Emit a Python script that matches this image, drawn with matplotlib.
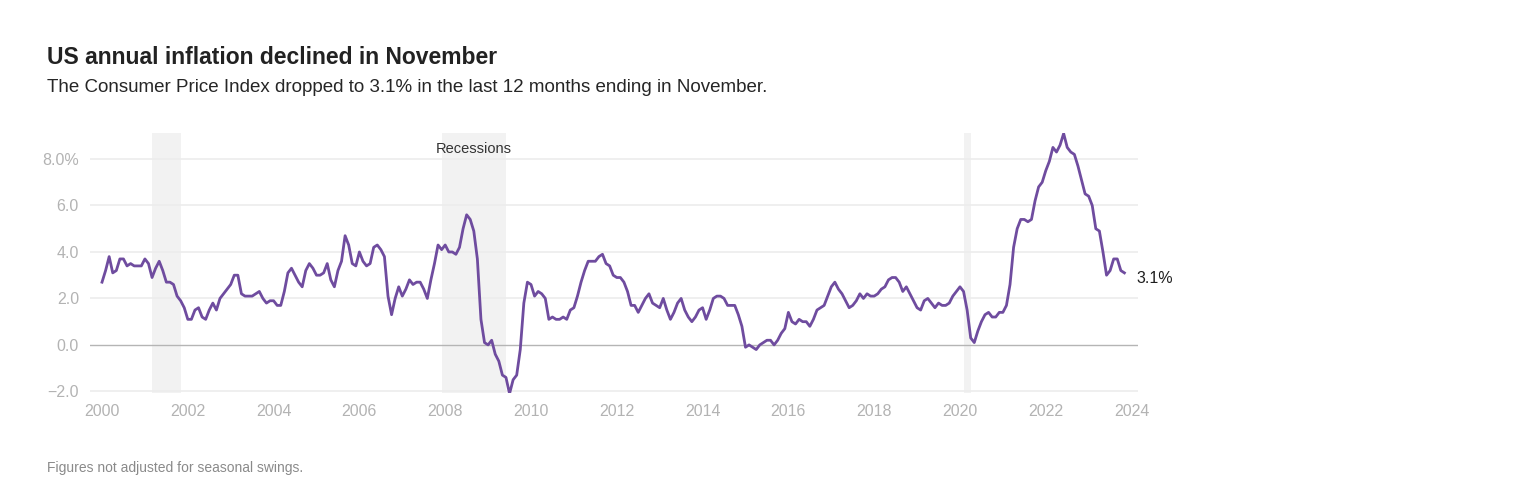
import numpy as np
import matplotlib
matplotlib.use("Agg")
import matplotlib.pyplot as plt

# monthly CPI, % change from a year earlier, Jan 2000 - Nov 2023
cpi_yoy = [
    2.7, 3.2, 3.8, 3.1, 3.2, 3.7, 3.7, 3.4, 3.5, 3.4, 3.4, 3.4,  # 2000
    3.7, 3.5, 2.9, 3.3, 3.6, 3.2, 2.7, 2.7, 2.6, 2.1, 1.9, 1.6,  # 2001
    1.1, 1.1, 1.5, 1.6, 1.2, 1.1, 1.5, 1.8, 1.5, 2.0, 2.2, 2.4,  # 2002
    2.6, 3.0, 3.0, 2.2, 2.1, 2.1, 2.1, 2.2, 2.3, 2.0, 1.8, 1.9,  # 2003
    1.9, 1.7, 1.7, 2.3, 3.1, 3.3, 3.0, 2.7, 2.5, 3.2, 3.5, 3.3,  # 2004
    3.0, 3.0, 3.1, 3.5, 2.8, 2.5, 3.2, 3.6, 4.7, 4.3, 3.5, 3.4,  # 2005
    4.0, 3.6, 3.4, 3.5, 4.2, 4.3, 4.1, 3.8, 2.1, 1.3, 2.0, 2.5,  # 2006
    2.1, 2.4, 2.8, 2.6, 2.7, 2.7, 2.4, 2.0, 2.8, 3.5, 4.3, 4.1,  # 2007
    4.3, 4.0, 4.0, 3.9, 4.2, 5.0, 5.6, 5.4, 4.9, 3.7, 1.1, 0.1,  # 2008
    0.0, 0.2, -0.4, -0.7, -1.3, -1.4, -2.1, -1.5, -1.3, -0.2, 1.8, 2.7,  # 2009
    2.6, 2.1, 2.3, 2.2, 2.0, 1.1, 1.2, 1.1, 1.1, 1.2, 1.1, 1.5,  # 2010
    1.6, 2.1, 2.7, 3.2, 3.6, 3.6, 3.6, 3.8, 3.9, 3.5, 3.4, 3.0,  # 2011
    2.9, 2.9, 2.7, 2.3, 1.7, 1.7, 1.4, 1.7, 2.0, 2.2, 1.8, 1.7,  # 2012
    1.6, 2.0, 1.5, 1.1, 1.4, 1.8, 2.0, 1.5, 1.2, 1.0, 1.2, 1.5,  # 2013
    1.6, 1.1, 1.5, 2.0, 2.1, 2.1, 2.0, 1.7, 1.7, 1.7, 1.3, 0.8,  # 2014
    -0.1, 0.0, -0.1, -0.2, 0.0, 0.1, 0.2, 0.2, 0.0, 0.2, 0.5, 0.7,  # 2015
    1.4, 1.0, 0.9, 1.1, 1.0, 1.0, 0.8, 1.1, 1.5, 1.6, 1.7, 2.1,  # 2016
    2.5, 2.7, 2.4, 2.2, 1.9, 1.6, 1.7, 1.9, 2.2, 2.0, 2.2, 2.1,  # 2017
    2.1, 2.2, 2.4, 2.5, 2.8, 2.9, 2.9, 2.7, 2.3, 2.5, 2.2, 1.9,  # 2018
    1.6, 1.5, 1.9, 2.0, 1.8, 1.6, 1.8, 1.7, 1.7, 1.8, 2.1, 2.3,  # 2019
    2.5, 2.3, 1.5, 0.3, 0.1, 0.6, 1.0, 1.3, 1.4, 1.2, 1.2, 1.4,  # 2020
    1.4, 1.7, 2.6, 4.2, 5.0, 5.4, 5.4, 5.3, 5.4, 6.2, 6.8, 7.0,  # 2021
    7.5, 7.9, 8.5, 8.3, 8.6, 9.1, 8.5, 8.3, 8.2, 7.7, 7.1, 6.5,  # 2022
    6.4, 6.0, 5.0, 4.9, 4.0, 3.0, 3.2, 3.7, 3.7, 3.2, 3.1,       # 2023
]
start_year = 2000

# NBER recessions (start, end) in fractional years
recession_start = [2001 + 2 / 12, 2007 + 11 / 12, 2020 + 1 / 12]
recession_end = [2001 + 10 / 12, 2009 + 5 / 12, 2020 + 3 / 12]

x_ticks = [2000, 2002, 2004, 2006, 2008, 2010, 2012, 2014, 2016, 2018, 2020, 2022, 2024]
y_ticks = [-2, 0, 2, 4, 6, 8]
y_labels = ["\u22122.0", "0.0", "2.0", "4.0", "6.0", "8.0%"]

LINE = "#6f4c9f"
TICK = "#b3b3b3"

t = start_year + np.arange(len(cpi_yoy)) / 12

fig = plt.figure(figsize=(15.33, 4.94), dpi=100)
ax = fig.add_axes([90 / 1533, 101 / 494, 1048 / 1533, 260 / 494])

for s, e in zip(recession_start, recession_end):
    ax.axvspan(s, e, color="#f2f2f2", lw=0, zorder=0)

for v in y_ticks:
    if v == 0:
        ax.axhline(v, color="#b5b5b5", lw=1.0, zorder=1)
    else:
        ax.axhline(v, color="#ececec", lw=1.2, zorder=1)

ax.plot(t, cpi_yoy, color=LINE, lw=2.0, zorder=3, solid_joinstyle="round")

ax.set_xlim(1999.72, 2024.15)
ax.set_ylim(-2.07, 9.12)
ax.set_xticks(x_ticks)
ax.set_xticklabels([str(x) for x in x_ticks])
ax.set_yticks(y_ticks)
ax.set_yticklabels(y_labels)
ax.tick_params(axis="both", length=0, colors=TICK, labelsize=11.5)
ax.tick_params(axis="x", pad=8)
ax.tick_params(axis="y", pad=8)
for lab in ax.get_xticklabels() + ax.get_yticklabels():
    lab.set_family("Liberation Sans")
for sp in ax.spines.values():
    sp.set_visible(False)

# recession label
mid = (recession_start[1] + recession_end[1]) / 2
ax.text(mid, 8.42, "Recessions", ha="center", va="center", fontsize=10.5,
        color="#333333", family="Liberation Sans")

# last value label
ax.annotate(f"{cpi_yoy[-1]:.1f}%", xy=(t[-1], cpi_yoy[-1]), xytext=(9, -4),
            textcoords="offset points", ha="left", va="center", fontsize=11.5,
            color="#1e1e1e", family="Liberation Sans")

fig.text(47 / 1533, 1 - 57 / 494, "US annual inflation declined in November",
         fontsize=16.5, fontweight="bold", color="#222222", va="center",
         family="Liberation Sans")
fig.text(47 / 1533, 1 - 88 / 494,
         "The Consumer Price Index dropped to 3.1% in the last 12 months ending in November.",
         fontsize=13.5, color="#262626", va="center", family="Liberation Sans")
fig.text(47 / 1533, 1 - 468 / 494, "Figures not adjusted for seasonal swings.",
         fontsize=10, color="#8a8a8a", va="center", family="Liberation Sans")

fig.savefig("out.png", dpi=100, facecolor="white")
